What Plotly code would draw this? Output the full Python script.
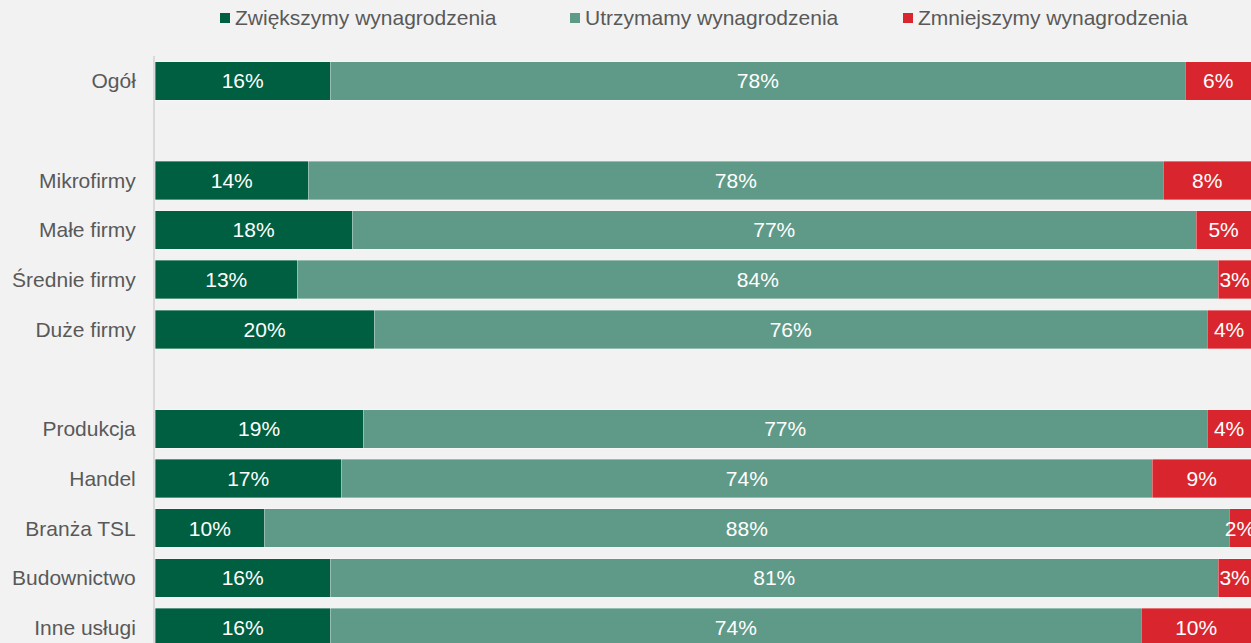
import plotly.graph_objects as go

# row labels; blank entries are spacer rows between groups
categories = ["Ogół", " ", "Mikrofirmy", "Małe firmy", "Średnie firmy", "Duże firmy", "  ",
              "Produkcja", "Handel", "Branża TSL", "Budownictwo", "Inne usługi"]
increase = [16, None, 14, 18, 13, 20, None, 19, 17, 10, 16, 16]
keep = [78, None, 78, 77, 84, 76, None, 77, 74, 88, 81, 74]
decrease = [6, None, 8, 5, 3, 4, None, 4, 9, 2, 3, 10]

series_names = ["Zwiększymy wynagrodzenia", "Utrzymamy wynagrodzenia", "Zmniejszymy wynagrodzenia"]
colors = ["#005f40", "#5f9a88", "#d9262e"]

W, H = 1251, 643
ML, MT = 155, 56
FONT = "Liberation Sans, Arial, sans-serif"
FS = 21

fig = go.Figure()
for name, vals, col in zip(series_names, [increase, keep, decrease], colors):
    fig.add_trace(go.Bar(
        y=categories, x=vals, name=name, orientation="h",
        marker=dict(color=col, line=dict(color="rgba(255,255,255,0.5)", width=0.7)),
        text=[f"{v}%" if v is not None else "" for v in vals],
        textposition="inside", insidetextanchor="middle", textangle=0,
        textfont=dict(color="white", size=FS, family=FONT),
        showlegend=False, hoverinfo="skip",
    ))


# legend drawn manually (pixel positions converted to paper coords)
def px_x(p):
    return (p - ML) / (W - ML)


def px_y(p):
    return (H - p) / (H - MT)


legend_x = [220, 570, 903]
shapes = []
annotations = []
for lx, name, col in zip(legend_x, series_names, colors):
    shapes.append(dict(type="rect", xref="paper", yref="paper",
                       x0=px_x(lx), x1=px_x(lx + 10), y0=px_y(23), y1=px_y(13),
                       fillcolor=col, line=dict(width=0)))
    annotations.append(dict(xref="paper", yref="paper", x=px_x(lx + 13), y=px_y(18),
                            xanchor="left", yanchor="middle", showarrow=False, text=name,
                            font=dict(size=FS, color="#595959", family=FONT)))

fig.update_layout(
    barmode="stack", bargap=0.225,
    width=W, height=H,
    margin=dict(l=ML, r=0, t=MT, b=0, pad=0),
    paper_bgcolor="#f2f2f2", plot_bgcolor="#f2f2f2",
    font=dict(family=FONT, size=FS, color="#595959"),
    uniformtext=dict(minsize=FS, mode="show"),
    shapes=shapes, annotations=annotations,
)
fig.update_xaxes(range=[0, 100], visible=False, showgrid=False, zeroline=False)
fig.update_yaxes(
    type="category", categoryorder="array", categoryarray=categories,
    range=[11.31, -0.5], showgrid=False, zeroline=False,
    showline=True, linecolor="#d9d9d9", linewidth=2,
    ticks="", ticklabelstandoff=13,
    tickfont=dict(size=FS, color="#595959", family=FONT),
)

# drop the default page margin so the chart fills the window
fig.write_html("out.html", config={"displayModeBar": False},
               post_script="document.body.style.margin='0';"
                           "document.body.style.background='#f2f2f2';")
